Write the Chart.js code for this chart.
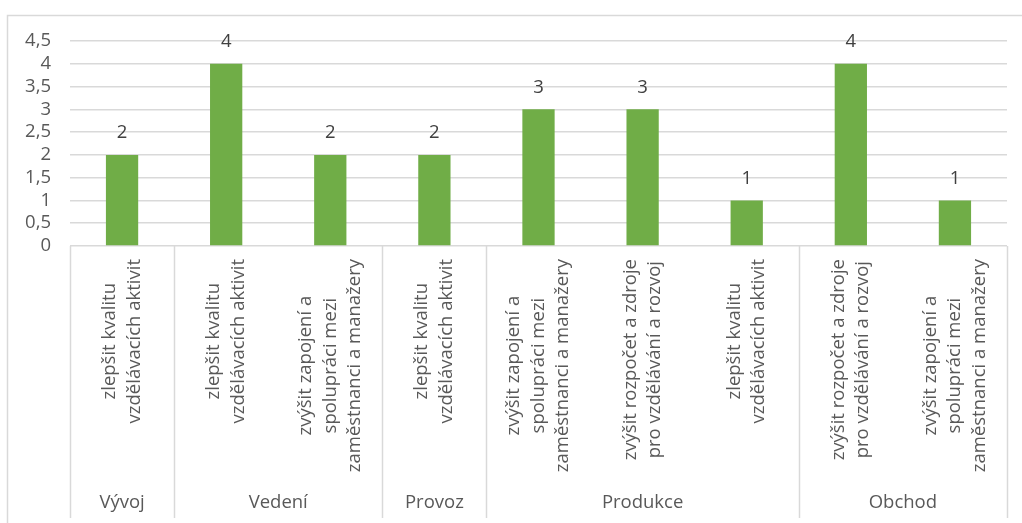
<!DOCTYPE html>
<html lang="cs">
<head>
    <meta charset="UTF-8">
    <title>Oblasti zlepšení podle oddělení</title>
    <script src="https://cdn.jsdelivr.net/npm/chart.js"></script>
    <style>
        body { margin: 0; background: #fff; }
        #wrap { width: 1022px; height: 523px; }
    </style>
</head>
<body>
    <div id="wrap"><canvas id="chart" width="1022" height="523"></canvas></div>

    <script>
        // kategorie (víceřádkové popisky) a počty odpovědí
        const categories = [
            ['zlepšit kvalitu', 'vzdělávacích aktivit'],
            ['zlepšit kvalitu', 'vzdělávacích aktivit'],
            ['zvýšit zapojení a', 'spolupráci mezi', 'zaměstnanci a manažery'],
            ['zlepšit kvalitu', 'vzdělávacích aktivit'],
            ['zvýšit zapojení a', 'spolupráci mezi', 'zaměstnanci a manažery'],
            ['zvýšit rozpočet a zdroje', 'pro vzdělávání a rozvoj'],
            ['zlepšit kvalitu', 'vzdělávacích aktivit'],
            ['zvýšit rozpočet a zdroje', 'pro vzdělávání a rozvoj'],
            ['zvýšit zapojení a', 'spolupráci mezi', 'zaměstnanci a manažery']
        ];
        const values = [2, 4, 2, 2, 3, 3, 1, 4, 1];

        // oddělení a kolik kategorií pod každé spadá
        const groups = ['Vývoj', 'Vedení', 'Provoz', 'Produkce', 'Obchod'];
        const groupSizes = [1, 2, 1, 3, 2];

        const yTicks = [0, 0.5, 1, 1.5, 2, 2.5, 3, 3.5, 4, 4.5];

        const FONT = '"Open Sans", sans-serif';
        const FONT_SIZE = 18.5;
        const gridColor = '#d9d9d9';
        const textColor = '#595959';

        const tablePlugin = {
            id: 'table',
            afterDraw(chart) {
                const ctx = chart.ctx;
                const x = chart.scales.x;
                const area = chart.chartArea;
                const step = x.getPixelForValue(1) - x.getPixelForValue(0);
                const bottom = 518;

                ctx.save();
                ctx.strokeStyle = gridColor;
                ctx.lineWidth = 1.5;

                // vnější rámeček
                ctx.beginPath();
                ctx.moveTo(7.5, 523);
                ctx.lineTo(7.5, 15.5);
                ctx.lineTo(1022, 15.5);
                ctx.stroke();

                // svislé čáry mezi odděleními
                let idx = 0;
                const edges = [idx];
                groupSizes.forEach(n => { idx += n; edges.push(idx); });
                ctx.beginPath();
                edges.forEach(i => {
                    const px = Math.round(x.getPixelForValue(i) - step / 2) + 0.5;
                    ctx.moveTo(px, area.bottom);
                    ctx.lineTo(px, bottom);
                });
                ctx.stroke();

                // popisky kategorií otočené o 90°
                ctx.fillStyle = textColor;
                ctx.font = FONT_SIZE + 'px ' + FONT;
                ctx.textAlign = 'center';
                ctx.textBaseline = 'middle';
                const lineH = 24.5;
                categories.forEach((lines, i) => {
                    const cx = x.getPixelForValue(i);
                    const maxW = Math.max(...lines.map(l => ctx.measureText(l).width));
                    const cy = 259 + maxW / 2;
                    lines.forEach((line, j) => {
                        const off = (j - (lines.length - 1) / 2) * lineH;
                        ctx.save();
                        ctx.translate(cx + off, cy);
                        ctx.rotate(-Math.PI / 2);
                        ctx.fillText(line, 0, 0);
                        ctx.restore();
                    });
                });

                // názvy oddělení
                groups.forEach((g, k) => {
                    const l = x.getPixelForValue(edges[k]) - step / 2;
                    const r = x.getPixelForValue(edges[k + 1]) - step / 2;
                    ctx.fillText(g, (l + r) / 2, 503);
                });

                // hodnoty nad sloupci
                ctx.fillStyle = '#404040';
                const meta = chart.getDatasetMeta(0);
                meta.data.forEach((bar, i) => {
                    ctx.fillText(String(values[i]), bar.x, bar.y - 22);
                });
                ctx.restore();
            }
        };

        new Chart(document.getElementById('chart'), {
            type: 'bar',
            data: {
                labels: categories.map(c => c.join(' ')),
                datasets: [{
                    data: values,
                    backgroundColor: '#70ad47',
                    categoryPercentage: 1,
                    barPercentage: 0.31
                }]
            },
            options: {
                responsive: false,
                animation: false,
                layout: { padding: { top: 41, right: 15, bottom: 277, left: 7 } },
                plugins: { legend: { display: false }, tooltip: { enabled: false } },
                scales: {
                    x: { display: false },
                    y: {
                        min: 0,
                        max: 4.5,
                        afterBuildTicks(scale) {
                            scale.ticks = yTicks.map(v => ({ value: v }));
                        },
                        afterFit(scale) { scale.width = 63; },
                        border: { display: false },
                        grid: { color: gridColor, lineWidth: 1.5, drawTicks: false },
                        ticks: {
                            autoSkip: false,
                            padding: 19,
                            color: textColor,
                            font: { family: FONT, size: FONT_SIZE },
                            callback: v => String(v).replace('.', ',')
                        }
                    }
                }
            },
            plugins: [tablePlugin]
        });
    </script>
</body>
</html>
